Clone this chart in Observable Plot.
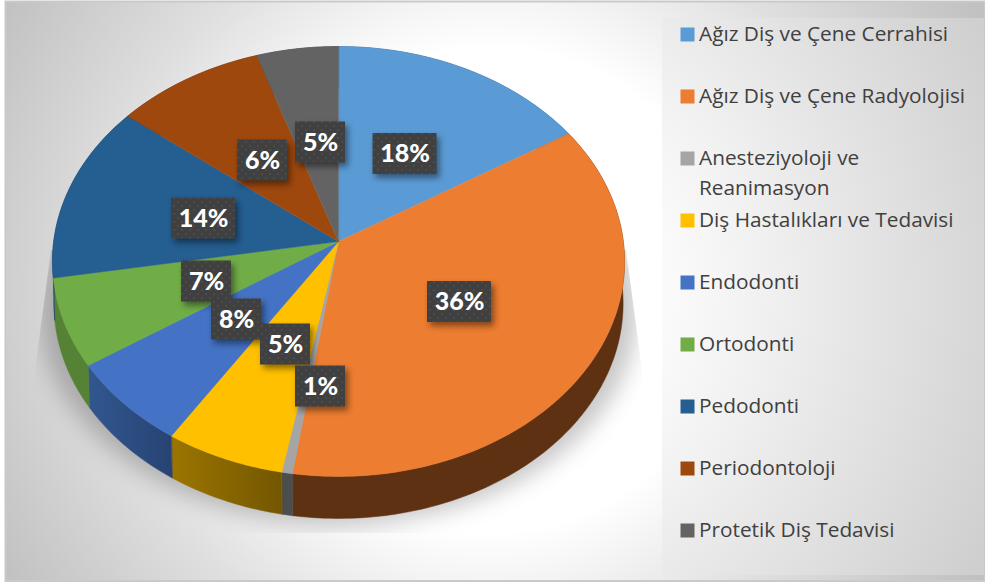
<!DOCTYPE html>
<html><head><meta charset="utf-8">
<script src="https://cdn.jsdelivr.net/npm/d3@7"></script>
<script src="https://cdn.jsdelivr.net/npm/@observablehq/plot@0.6"></script>
<style>html,body{margin:0;padding:0;background:#fff}svg{display:block}</style>
</head><body><div id="c"></div><script>
const categories = ["Ağız Diş ve Çene Cerrahisi","Ağız Diş ve Çene Radyolojisi","Anesteziyoloji ve\nReanimasyon","Diş Hastalıkları ve Tedavisi","Endodonti","Ortodonti","Pedodonti","Periodontoloji","Protetik Diş Tedavisi"];
const percentLabels = [18,36,1,5,8,7,14,6,5];
// slice sizes as drawn in the picture (% of the full turn)
const drawnShares = [16.1,36.25,0.55,6.2,6.6,6.6,13.4,9.25,5.05];
const topColors = ["#5b9bd5","#ed7d31","#a5a5a5","#ffc000","#4472c4","#70ad47","#255e91","#9e480e","#636363"];
const wallColors = ["#34597b","#5f3113","#4b4d4f","url(#wallY)","url(#wallB)","#558234","#1b4468","#5f2b08","#3b3b3b"];
// label box centres as placed in the chart
const labelX = [404.5,459,320,285,236,206,203,262,320];
const labelY = [153.5,301.5,386,344,319,281,218,160,142];
const legendY = [34,96,158,220,282,344,406,468,530];

const W = 985, H = 585;
const apex = {x:338, y:241}, R = 284.8, A = 213.1, k = 0.093, depth = 42;
const rad = d => d*Math.PI/180;
const rim = (t, dy=0, s=1) => {
  const u = Math.sin(rad(t)), v = Math.cos(rad(t)), q = 1+k*v;
  return {x: apex.x + s*R*u/q, y: apex.y - A*v/q + dy};
};
let acc = 0;
const bounds = drawnShares.map(s => { const b=[acc*3.6,(acc+s)*3.6]; acc+=s; return b; });
const arc = (a,b,dy=0,s=1) => { const n=Math.max(2,Math.ceil(b-a)); return d3.range(n+1).map(i=>rim(a+(b-a)*i/n,dy,s)); };
const tops = bounds.flatMap(([a,b],i)=>[{...apex},...arc(a,b)].map(p=>({...p,i,color:topColors[i]})));
const walls = bounds.flatMap(([a,b],i)=>[...arc(a,b),...arc(a,b,depth,0.995).reverse()].map(p=>({...p,i,color:wallColors[i]})));
const shadow = arc(0,360,depth+6,1.045);
const boxes = percentLabels.map((p,i)=>{const w=p>=10?32:25,h=20.5;return {x1:labelX[i]-w,x2:labelX[i]+w,y1:labelY[i]-h,y2:labelY[i]+h,x:labelX[i],y:labelY[i],t:p+"%"};});
const legend = categories.map((c,i)=>({c,y:legendY[i],color:topColors[i]}));

const defs = () => {
  const s = d3.create("svg:g");
  const ns = s.append("defs");
  const radial = (id, stops) => {
    const g = ns.append("radialGradient").attr("id",id).attr("gradientUnits","userSpaceOnUse").attr("cx",490).attr("cy",290).attr("r",575);
    stops.forEach(([o,c]) => g.append("stop").attr("offset",o).attr("stop-color",c));
  };
  radial("bg",[["42%","#ffffff"],["68%","#dfdfdf"],["100%","#bfbfbf"]]);
  radial("legendBg",[["30%","#fbfbfb"],["47%","#f1f1f1"],["97%","#cfcfcf"]]);
  const gy = ns.append("linearGradient").attr("id","wallY");
  gy.append("stop").attr("offset","0").attr("stop-color","#9c7500");
  gy.append("stop").attr("offset","1").attr("stop-color","#735700");
  const gb = ns.append("linearGradient").attr("id","wallB");
  gb.append("stop").attr("offset","0").attr("stop-color","#31578f");
  gb.append("stop").attr("offset","1").attr("stop-color","#274373");
  const pat = ns.append("pattern").attr("id","dots").attr("width",8).attr("height",8).attr("patternUnits","userSpaceOnUse");
  pat.append("rect").attr("width",8).attr("height",8).attr("fill","#404040");
  pat.append("circle").attr("cx",2).attr("cy",2).attr("r",1).attr("fill","#4e4e4e");
  pat.append("circle").attr("cx",6).attr("cy",6).attr("r",1).attr("fill","#4e4e4e");
  const cp = ns.append("clipPath").attr("id","shadowClip");
  cp.append("polygon").attr("points","51,250 626,250 642,370 642,533 35,533 35,370");
  return s.node();
};
const clipped = (index, scales, values, dims, ctx, next) => {
  const g = next(index, scales, values, dims, ctx);
  const w = document.createElementNS("http://www.w3.org/2000/svg","g");
  w.setAttribute("clip-path","url(#shadowClip)");
  w.appendChild(g);
  return w;
};

const chart = Plot.plot({
  width:W, height:H, margin:0,
  style:{background:"#fff"},
  x:{domain:[0,W],range:[0,W],axis:null},
  y:{domain:[0,H],range:[0,H],axis:null},
  color:{type:"identity"},
  marks:[
    defs,
    Plot.rect([{x1:5.5,x2:W,y1:1.5,y2:581}],{x1:"x1",x2:"x2",y1:"y1",y2:"y2",fill:"url(#bg)",stroke:"#c9c9c9",strokeWidth:2}),
    Plot.rect([{x1:662,x2:W-1,y1:18,y2:575}],{x1:"x1",x2:"x2",y1:"y1",y2:"y2",fill:"url(#legendBg)"}),
    Plot.line(shadow,{x:"x",y:"y",curve:"linear-closed",fill:"#000",stroke:"none",fillOpacity:0.22,imageFilter:"blur(11px)",render:clipped}),
    Plot.line(walls,{x:"x",y:"y",z:"i",fill:"color",stroke:"color",strokeWidth:0.5,curve:"linear-closed"}),
    Plot.line(tops,{x:"x",y:"y",z:"i",fill:"color",stroke:"color",strokeWidth:0.5,curve:"linear-closed"}),
    Plot.rect(boxes,{x1:"x1",x2:"x2",y1:"y1",y2:"y2",fill:"url(#dots)",imageFilter:"drop-shadow(3px 4px 3px rgba(0,0,0,.45))"}),
    Plot.text(boxes,{x:"x",y:"y",text:"t",fill:"white",fontSize:25,fontWeight:900,fontFamily:"Lato"}),
    Plot.dot(legend,{x:()=>687,y:"y",symbol:"square",r:7.9,fill:"color",stroke:"none"}),
    Plot.text(legend,{x:()=>698.5,y:d=>d.y-15,text:"c",textAnchor:"start",lineAnchor:"top",lineHeight:1.44,fill:"#404040",fontSize:20.8,fontFamily:"Open Sans"})
  ]
});
document.getElementById("c").appendChild(chart);
</script></body></html>
